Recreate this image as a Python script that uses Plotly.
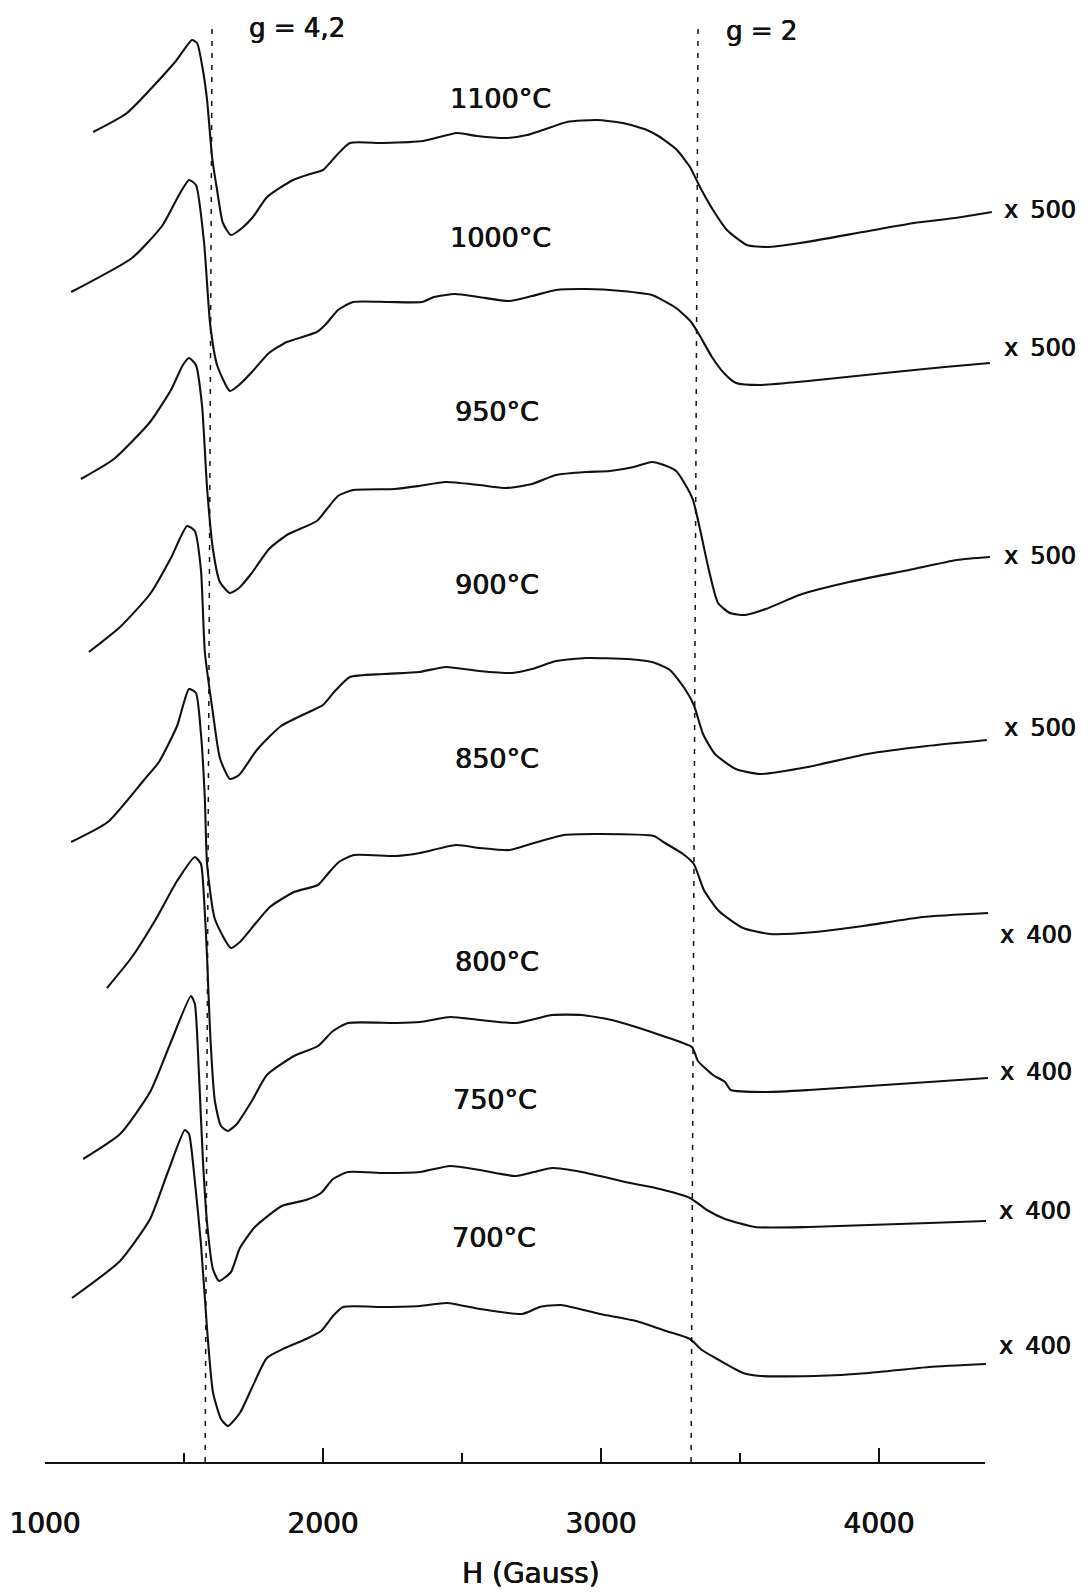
import plotly.graph_objects as go

# ---------------- data (field H in Gauss, signal in arbitrary units) ----------------
temperatures = ["1100°C", "1000°C", "950°C", "900°C", "850°C", "800°C", "750°C", "700°C"]
gains = ["x\u2002500", "x\u2002500", "x\u2002500", "x\u2002500",
         "x\u2002400", "x\u2002400", "x\u2002400", "x\u2002400"]

H_1100 = [1173,1295,1468,1529,1547,1568,1583,1601,1619,1640,1669,1709,1748,1799,1892,1953,2000,2050,2097,2216,2360,2482,2554,2662,2734,2791,2878,2986,3079,3165,3212,3273,3320,3356,3403,3453,3525,3597,3716,3942,4126,4273,4406]
S_1100 = [80,99,150,172,169,142,112,55,22,-11,-23,-16,-5,15,32,38,42,57,69,69,71,79,76,74,77,82,90,92,89,82,75,62,45,25,2,-18,-33,-35,-31,-20,-11,-6,0]

H_1000 = [1094,1313,1421,1486,1518,1543,1572,1594,1619,1665,1698,1741,1806,1870,1978,2011,2054,2108,2237,2356,2399,2475,2561,2669,2752,2838,2946,3075,3183,3270,3324,3356,3399,3442,3486,3572,3745,4021,4237,4399]
S_1000 = [71,105,137,170,183,178,121,39,-2,-28,-22,-10,10,21,31,39,53,61,61,61,66,69,66,62,67,73,74,72,68,55,41,27,6,-10,-20,-22,-18,-10,-4,0]

H_950 = [1129,1248,1378,1453,1496,1518,1543,1565,1583,1604,1629,1665,1698,1741,1806,1870,1978,2011,2054,2108,2259,2345,2442,2561,2658,2752,2838,2946,3032,3118,3183,3226,3270,3302,3331,3356,3388,3421,3464,3518,3593,3723,3892,4108,4280,4399]
S_950 = [78,98,135,167,192,199,192,151,69,8,-25,-36,-31,-17,8,22,36,47,61,67,68,71,75,72,69,73,82,85,86,90,95,92,86,73,57,28,-13,-46,-56,-58,-52,-37,-25,-13,-3,0]

H_900 = [1158,1270,1378,1453,1511,1539,1561,1575,1604,1629,1665,1698,1762,1849,1957,2000,2043,2097,2216,2345,2442,2561,2680,2752,2838,2946,3097,3183,3248,3302,3334,3367,3410,3485,3572,3744,3957,4172,4388]
S_900 = [86,111,144,180,212,207,168,86,25,-20,-41,-37,-12,12,27,33,47,61,64,66,71,67,65,69,77,80,79,76,68,49,33,4,-16,-31,-36,-29,-16,-8,-2]

H_850 = [1094,1226,1356,1410,1475,1518,1543,1561,1575,1583,1611,1669,1701,1744,1809,1896,1982,2014,2057,2111,2262,2349,2478,2565,2672,2759,2867,2996,3190,3230,3295,3334,3370,3424,3511,3608,3770,3942,4158,4392]
S_850 = [71,91,133,151,187,224,220,179,114,49,-6,-35,-29,-15,6,21,28,38,51,58,57,60,68,65,63,70,78,79,77,70,59,49,23,2,-15,-21,-19,-13,-4,0]

H_800 = [1223,1313,1399,1475,1539,1561,1572,1583,1594,1611,1633,1658,1690,1744,1798,1896,1982,2036,2090,2262,2349,2457,2565,2694,2824,2931,3039,3126,3212,3327,3349,3403,3446,3467,3597,3748,3964,4180,4392]
S_800 = [89,120,158,196,220,213,179,120,44,-24,-49,-54,-47,-24,2,21,31,46,54,54,55,60,57,54,62,62,57,50,42,30,16,2,-5,-13,-15,-13,-9,-5,-1]

H_750 = [1137,1270,1378,1453,1525,1539,1554,1568,1583,1604,1626,1669,1701,1755,1852,1939,1993,2036,2090,2219,2349,2457,2565,2694,2759,2824,2931,3104,3212,3320,3381,3446,3554,3748,3964,4180,4385]
S_750 = [62,87,129,179,225,217,146,61,-2,-48,-60,-51,-27,-6,15,21,28,42,49,48,49,55,51,45,49,53,49,38,32,23,11,2,-6,-6,-4,-2,0]

H_700 = [1097,1270,1378,1442,1503,1518,1539,1561,1583,1604,1633,1658,1701,1744,1798,1863,1939,1993,2036,2072,2219,2349,2446,2565,2716,2780,2856,2996,3126,3234,3320,3363,3424,3511,3575,3770,3964,4180,4385]
S_700 = [66,103,145,192,234,230,183,120,35,-28,-55,-62,-49,-24,6,16,25,33,48,57,57,58,61,55,50,57,59,50,43,33,25,14,4,-9,-12,-12,-9,-3,0]

fields = [H_1100, H_1000, H_950, H_900, H_850, H_800, H_750, H_700]
signals = [S_1100, S_1000, S_950, S_900, S_850, S_800, S_750, S_700]

# vertical stacking offsets of the spectra (arbitrary units)
stack_offsets = [1250, 1099, 905, 724, 549, 385, 241, 98]

# reference g-value markers (field at bottom / top of the drawn marker line)
g_labels = ["g = 4,2", "g = 2"]
g_field_bottom = [1576, 3324]
g_field_top = [1601, 3349]

axis_tickvals = [1000, 2000, 3000, 4000]
axis_ticktext = ["1000", "2000", "3000", "4000"]
axis_minor_tickvals = [1500, 2500, 3500]

# ---------------- layout constants ----------------
BODY = 8                    # default page margin around the figure
W, H = 1090 - BODY, 1593 - BODY
PLOT_BOTTOM = 1462 - BODY   # pixel row of the field axis (figure coords)
X0_PX = 45 - BODY           # pixel column of 1000 G (figure coords)
PX_PER_G = 0.278
AXIS_END_PX = 985 - BODY
Y_TOP = PLOT_BOTTOM         # y-axis span (units == pixels)

x_lo = 1000 - X0_PX / PX_PER_G
x_hi = 1000 + (W - X0_PX) / PX_PER_G
ax_hi = 1000 + (AXIS_END_PX - X0_PX) / PX_PER_G

FONT = "DejaVu Sans"
INK = "#111111"
HEAVY = "0.45px 0 0 #111111, -0.25px 0 0 #111111"   # slightly heavier ink like the print


def tfont(size):
    return dict(family=FONT, size=size, color=INK, shadow=HEAVY)


fig = go.Figure()

for Hs, Ss, off in zip(fields, signals, stack_offsets):
    fig.add_trace(go.Scatter(
        x=Hs, y=[s + off for s in Ss], mode="lines",
        line=dict(color=INK, width=2.1, shape="spline", smoothing=0.55),
        xaxis="x", yaxis="y", hoverinfo="skip", showlegend=False))

# dashed g markers on the visible field axis
for hb, ht in zip(g_field_bottom, g_field_top):
    fig.add_trace(go.Scatter(
        x=[hb, ht], y=[0, Y_TOP - 21], mode="lines",
        line=dict(color=INK, width=1.5, dash="5px,7px"),
        xaxis="x2", yaxis="y", hoverinfo="skip", showlegend=False))

annotations = []
# temperature labels (data coordinates)
temp_label_x = [2637, 2637, 2626, 2626, 2626, 2626, 2619, 2615]
temp_label_y = [1364, 1225, 1051, 878, 704, 501, 363, 225]
for t, lx, ly in zip(temperatures, temp_label_x, temp_label_y):
    annotations.append(dict(x=lx, y=ly, xref="x", yref="y", text=t, showarrow=False,
                            xanchor="center", yanchor="middle", font=tfont(27)))
# gain labels
gain_label_x = [4579, 4579, 4579, 4579, 4565, 4565, 4561, 4561]
gain_label_y = [1252, 1114, 906, 734, 527, 390, 251, 116]
for g, lx, ly in zip(gains, gain_label_x, gain_label_y):
    annotations.append(dict(x=lx, y=ly, xref="x", yref="y", text=g, showarrow=False,
                            xanchor="center", yanchor="middle", font=tfont(24)))
# g marker labels
g_label_x = [1906, 3579]
g_label_y = [1434, 1431]
for g, lx, ly in zip(g_labels, g_label_x, g_label_y):
    annotations.append(dict(x=lx, y=ly, xref="x", yref="y", text=g, showarrow=False,
                            xanchor="center", yanchor="middle", font=tfont(26)))
# axis title
annotations.append(dict(x=(531 - BODY) / W, y=(PLOT_BOTTOM - (1573 - BODY)) / PLOT_BOTTOM,
                        xref="paper", yref="paper",
                        text="H (Gauss)", showarrow=False, xanchor="center", yanchor="middle",
                        font=tfont(28)))

fig.update_layout(
    width=W, height=H,
    autosize=False,
    margin=dict(l=0, r=0, t=0, b=H - PLOT_BOTTOM, pad=0, autoexpand=False),
    paper_bgcolor="white", plot_bgcolor="rgba(0,0,0,0)",
    showlegend=False,
    xaxis=dict(domain=[0, 1], range=[x_lo, x_hi], visible=False, fixedrange=True,
               automargin=False),
    xaxis2=dict(domain=[X0_PX / W, AXIS_END_PX / W], range=[1000, ax_hi],
                anchor="y", side="bottom", automargin=False,
                showline=True, linecolor=INK, linewidth=2,
                showgrid=False, zeroline=False,
                ticks="inside", ticklen=14, tickwidth=1.5, tickcolor=INK,
                tickmode="array", tickvals=axis_tickvals, ticktext=axis_ticktext,
                ticklabelstandoff=35,
                tickfont=tfont(28),
                minor=dict(tickvals=axis_minor_tickvals, ticks="inside", ticklen=9,
                           tickwidth=1.5, tickcolor=INK, showgrid=False),
                fixedrange=True),
    yaxis=dict(domain=[0, 1], range=[0, Y_TOP], visible=False, fixedrange=True,
               automargin=False),
    annotations=annotations,
)

fig.write_html("out.html")
